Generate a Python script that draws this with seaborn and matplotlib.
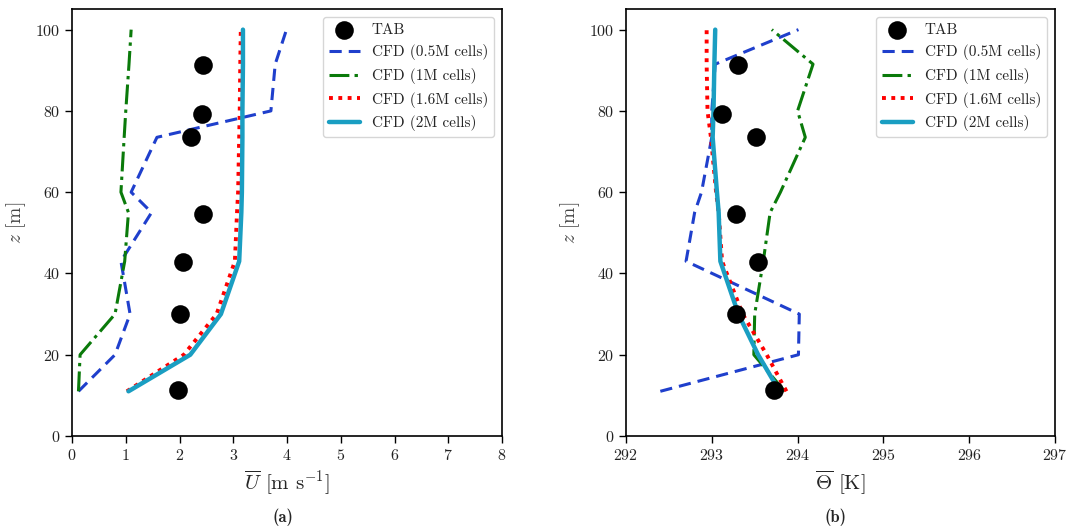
import numpy as np
import pandas as pd
import matplotlib
matplotlib.use("Agg")
import matplotlib.pyplot as plt
import seaborn as sns

# ---- measured profiles (TAB) ----
tab_z = [11.3, 30.0, 42.7, 54.6, 73.6, 79.3, 91.4]
tab_u = [1.97, 2.01, 2.07, 2.44, 2.21, 2.42, 2.44]
tab_theta = [293.72, 293.28, 293.54, 293.28, 293.52, 293.12, 293.30]

# ---- CFD profiles at the model heights ----
cfd_z = [11.0, 20.0, 30.0, 43.0, 55.0, 60.0, 73.5, 80.0, 91.5, 100.0]

u_05m = [0.12, 0.80, 1.08, 0.91, 1.48, 1.10, 1.58, 3.70, 3.78, 3.99]
u_1m = [0.12, 0.15, 0.80, 0.98, 1.05, 0.91, 0.97, 1.00, 1.06, 1.10]
u_16m = [1.02, 2.08, 2.69, 3.03, 3.07, 3.09, 3.11, 3.12, 3.13, 3.14]
u_2m = [1.05, 2.20, 2.77, 3.11, 3.15, 3.16, 3.17, 3.17, 3.18, 3.18]

th_05m = [292.40, 294.01, 294.02, 292.70, 292.80, 292.88, 293.00, 293.00, 293.04, 294.01]
th_1m = [293.85, 293.49, 293.50, 293.60, 293.68, 293.80, 294.09, 294.00, 294.18, 293.70]
th_16m = [293.87, 293.64, 293.36, 293.12, 293.08, 293.05, 292.99, 292.95, 292.94, 292.94]
th_2m = [293.79, 293.54, 293.31, 293.10, 293.08, 293.06, 293.01, 293.02, 293.03, 293.04]

series_labels = ["CFD (0.5M cells)", "CFD (1M cells)", "CFD (1.6M cells)", "CFD (2M cells)"]

sns.set_theme(style="ticks")
plt.rcParams.update({
    "font.family": ["cmr10", "DejaVu Serif"],
    "mathtext.fontset": "cm",
    "axes.formatter.use_mathtext": True,
    "axes.edgecolor": "black",
    "axes.linewidth": 1.2,
    "xtick.color": "black",
    "ytick.color": "black",
    "xtick.labelcolor": "#222222",
    "ytick.labelcolor": "#222222",
    "xtick.major.size": 5,
    "ytick.major.size": 5,
    "xtick.major.width": 1.0,
    "ytick.major.width": 1.0,
    "xtick.labelsize": 11.5,
    "ytick.labelsize": 11.5,
    "legend.fontsize": 11,
})

styles = [
    dict(color="#1f3fcc", lw=2.2, linestyle=(0, (4.0, 2.3))),
    dict(color="#0a7a0a", lw=2.2, linestyle=(0, (6.5, 1.7, 1.1, 1.7))),
    dict(color="#ff0000", lw=2.8, linestyle=(0, (1.0, 1.4))),
    dict(color="#1a9ec2", lw=3.2, linestyle="-"),
]

fig = plt.figure(figsize=(10.67, 5.29), dpi=100)
ax_u = fig.add_axes([0.0675, 0.1758, 0.403, 0.8066])
ax_t = fig.add_axes([0.5867, 0.1758, 0.402, 0.8066])


def draw_panel(ax, tab_x, profiles):
    sns.scatterplot(x=tab_x, y=tab_z, ax=ax, color="black", s=180,
                    linewidth=0, label="TAB", zorder=3)
    for vals, lab, st in zip(profiles, series_labels, styles):
        df = pd.DataFrame({"x": vals, "z": cfd_z})
        sns.lineplot(data=df, x="x", y="z", ax=ax, sort=False, estimator=None,
                     label=lab, color=st["color"], linewidth=st["lw"],
                     linestyle=st["linestyle"], zorder=2)
    ax.set_ylim(0, 105)
    ax.set_yticks([0, 20, 40, 60, 80, 100])
    ax.set_ylabel(r"$z$ [m]", fontsize=14, color="#444444", labelpad=5)
    leg = ax.legend(loc="upper right", handlelength=2.0, borderpad=0.4,
                    labelspacing=0.5, handletextpad=0.8)
    leg.get_frame().set_edgecolor("#cccccc")


draw_panel(ax_u, tab_u, [u_05m, u_1m, u_16m, u_2m])
ax_u.set_xlim(0, 8)
ax_u.set_xticks(range(0, 9))
ax_u.set_xlabel(r"$\overline{U}$ [m s$^{-1}$]", fontsize=15, labelpad=4)

draw_panel(ax_t, tab_theta, [th_05m, th_1m, th_16m, th_2m])
ax_t.set_xlim(292, 297)
ax_t.set_xticks(range(292, 298))
ax_t.set_xlabel(r"$\overline{\Theta}$ [K]", fontsize=15, labelpad=4)

fig.text(0.265, 0.022, "(a)", fontsize=12, family="cmb10", ha="center", va="center")
fig.text(0.7826, 0.022, "(b)", fontsize=12, family="cmb10", ha="center", va="center")

fig.savefig("out.png", dpi=100)
